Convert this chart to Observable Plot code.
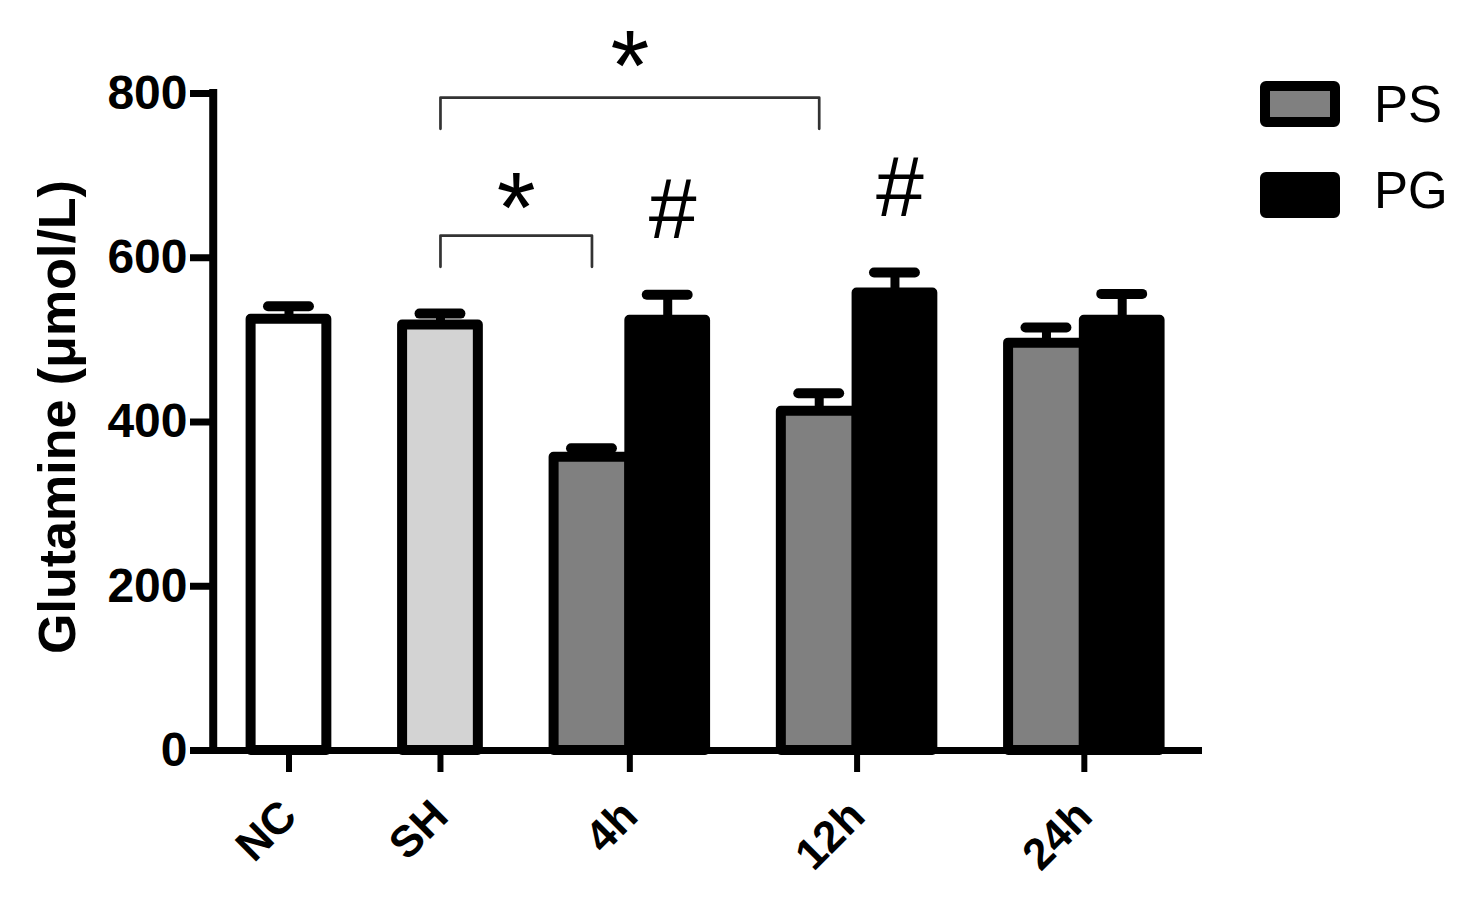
<!DOCTYPE html>
<html><head><meta charset="utf-8">
<script src="https://cdn.jsdelivr.net/npm/d3@7"></script>
<script src="https://cdn.jsdelivr.net/npm/@observablehq/plot@0.6"></script>
<style>
html,body{margin:0;padding:0;background:#fff;}
#wrap{position:relative;width:1475px;height:906px;font-family:"Liberation Sans",Arial,sans-serif;}
.lg{position:absolute;left:1260px;width:60px;height:26px;border:10px solid #000;border-radius:6px;}
.lt{position:absolute;left:1374px;font-size:51px;line-height:1;color:#000;}
</style></head><body><div id="wrap"></div>
<script>
// ---- data ----
const categories = ["NC", "SH", "4h", "12h", "24h"];
const controlGroups = ["NC", "SH"];
const controlMeans = [525, 518];
const controlSEM = [16, 14];
const timeGroups = ["4h", "12h", "24h"];
const seriesNames = ["PS", "PG"];
const psMeans = [357, 413, 496];
const psSEM = [11, 22, 19];
const pgMeans = [524, 557, 524];
const pgSEM = [31, 25, 32];
const yTicks = [0, 200, 400, 600, 800];
const yLabel = "Glutamine (μmol/L)";
// significance annotations
const bracketStart = ["SH", "SH"];
const bracketEnd = ["12h PS", "4h PS"];
const bracketTop = [795, 627];
const bracketBottom = [757, 589];
const bracketMark = ["*", "*"];
const bracketMarkY = [879, 706];
const hashBars = ["4h PG", "12h PG"];
const hashY = [698, 725];

// ---- build tables ----
const fills = {NC: "#ffffff", SH: "#d3d3d3", PS: "#808080", PG: "#000000"};
const bars = [];
let slot = 0;
controlGroups.forEach((g, i) => {
  bars.push({key: g, group: g, series: g, value: controlMeans[i], sem: controlSEM[i], slot});
  slot += 2;
});
timeGroups.forEach((g, i) => {
  bars.push({key: g + " PS", group: g, series: "PS", value: psMeans[i], sem: psSEM[i], slot});
  bars.push({key: g + " PG", group: g, series: "PG", value: pgMeans[i], sem: pgSEM[i], slot: slot + 1});
  slot += 3;
});
const slotOf = new Map(bars.map(b => [b.key, b.slot]));
const groupData = categories.map(c => ({label: c, center: d3.mean(bars.filter(b => b.group === c), b => b.slot)}));
const centers = groupData.map(d => d.center);

const bracketPts = [];
const marks = [];
bracketStart.forEach((s, i) => {
  const a = slotOf.get(s), b = slotOf.get(bracketEnd[i]);
  bracketPts.push({id: i, x: a, y: bracketBottom[i]}, {id: i, x: a, y: bracketTop[i]},
                  {id: i, x: b, y: bracketTop[i]}, {id: i, x: b, y: bracketBottom[i]});
  marks.push({text: bracketMark[i], x: (a + b) / 2, y: bracketMarkY[i]});
});
const hashes = hashBars.map((k, i) => ({text: "#", x: slotOf.get(k), y: hashY[i]}));

const font = "'Liberation Sans', Arial, sans-serif";
const chart = Plot.plot({
  width: 1475, height: 906,
  marginLeft: 190, marginRight: 273, marginTop: 93, marginBottom: 156,
  x: {type: "linear", domain: [-1.30, 12.06]},
  y: {domain: [0, 800]},
  style: {fontFamily: font, background: "white", color: "black", overflow: "visible"},
  marks: [
    Plot.ruleX(bars, {x: "slot", y1: "value", y2: d => d.value + d.sem, strokeWidth: 9}),
    Plot.ruleY(bars, {y: d => d.value + d.sem, x1: d => d.slot - 0.27, x2: d => d.slot + 0.27, strokeWidth: 10, strokeLinecap: "round"}),
    Plot.rect(bars, {x1: d => d.slot - 0.5, x2: d => d.slot + 0.5, y1: 0, y2: "value",
      fill: d => fills[d.series], stroke: "black", strokeWidth: 10, strokeLinejoin: "round"}),
    Plot.ruleY([0], {strokeWidth: 7}),
    Plot.ruleX([-1], {y1: 0, y2: 800, strokeWidth: 8, strokeLinecap: "square"}),
    Plot.axisY({ticks: yTicks, dx: 22, tickSize: 22, tickPadding: 3, strokeWidth: 7,
      fontSize: 48, fontWeight: "bold", label: null}),
    Plot.axisX({ticks: centers, tickSize: 22, strokeWidth: 6, tickFormat: () => "", label: null}),
    Plot.text(groupData, {x: "center", frameAnchor: "bottom", text: "label", rotate: -45,
      textAnchor: "end", lineAnchor: "top", dx: -12, dy: 46, fontSize: 44, fontWeight: "bold"}),
    Plot.text([yLabel], {frameAnchor: "left", text: d => d, rotate: -90, textAnchor: "middle",
      lineAnchor: "top", dx: -152, dy: -5, fontSize: 52, fontWeight: "bold"}),
    Plot.line(bracketPts, {x: "x", y: "y", z: "id", stroke: "#333", strokeWidth: 2.7}),
    Plot.text(marks, {x: "x", y: "y", text: "text", lineAnchor: "top", fontSize: 100}),
    Plot.text(hashes, {x: "x", y: "y", text: "text", lineAnchor: "top", fontSize: 86, dx: 5})
  ]
});
const wrap = document.getElementById("wrap");
wrap.appendChild(chart);
// legend
const legendTops = [81, 172];
const legendTextTops = [79, 165];
seriesNames.forEach((s, i) => {
  const box = document.createElement("div");
  box.className = "lg";
  box.style.top = legendTops[i] + "px";
  box.style.background = fills[s];
  wrap.appendChild(box);
  const t = document.createElement("div");
  t.className = "lt";
  t.style.top = legendTextTops[i] + "px";
  t.textContent = s;
  wrap.appendChild(t);
});
</script></body></html>
